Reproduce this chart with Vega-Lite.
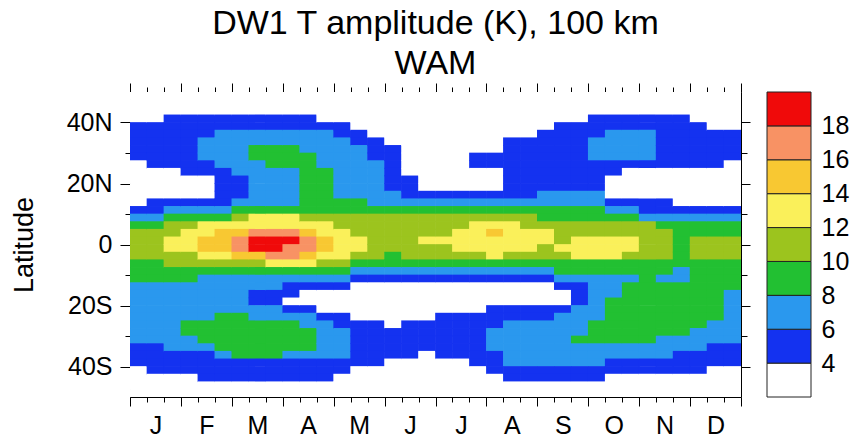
{
"$schema":"https://vega.github.io/schema/vega-lite/v6.json",
"padding":{"left":10,"top":6,"right":5,"bottom":5},
"background":"white",
"title":{"text":["DW1 T amplitude (K), 100 km","WAM"],"fontSize":34,"font":"Liberation Sans","fontWeight":"normal","color":"black","anchor":"middle","lineHeight":40,"offset":2,"dx":6},
"config":{"font":"Liberation Sans","view":{"stroke":null},"axis":{"labelFont":"Liberation Sans","titleFont":"Liberation Sans","labelColor":"black","tickColor":"black","domainColor":"black","titleColor":"black","grid":false}},
"spacing":26,
"bounds":"flush",
"datasets":{
"legend":[{"lo":2,"hi":4,"T":3},{"lo":4,"hi":6,"T":5},{"lo":6,"hi":8,"T":7},{"lo":8,"hi":10,"T":9},{"lo":10,"hi":12,"T":11},{"lo":12,"hi":14,"T":13},{"lo":14,"hi":16,"T":15},{"lo":16,"hi":18,"T":17},{"lo":18,"hi":20,"T":19}],
"amp":[
{"d":5,"lat":48.75,"T":3},{"d":5,"lat":46.25,"T":3},{"d":5,"lat":43.75,"T":3},{"d":5,"lat":41.25,"T":3},{"d":5,"lat":38.75,"T":5},{"d":5,"lat":36.25,"T":5},{"d":5,"lat":33.75,"T":5},{"d":5,"lat":31.25,"T":5},{"d":5,"lat":28.75,"T":5},{"d":5,"lat":26.25,"T":3},{"d":5,"lat":23.75,"T":3},{"d":5,"lat":21.25,"T":3},{"d":5,"lat":18.75,"T":3},{"d":5,"lat":16.25,"T":3},{"d":5,"lat":13.75,"T":3},{"d":5,"lat":11.25,"T":5},{"d":5,"lat":8.75,"T":7},{"d":5,"lat":6.25,"T":9},{"d":5,"lat":3.75,"T":11},{"d":5,"lat":1.25,"T":11},{"d":5,"lat":-1.25,"T":11},{"d":5,"lat":-3.75,"T":11},{"d":5,"lat":-6.25,"T":9},{"d":5,"lat":-8.75,"T":9},{"d":5,"lat":-11.25,"T":9},{"d":5,"lat":-13.75,"T":7},{"d":5,"lat":-16.25,"T":7},{"d":5,"lat":-18.75,"T":7},{"d":5,"lat":-21.25,"T":7},{"d":5,"lat":-23.75,"T":7},{"d":5,"lat":-26.25,"T":7},{"d":5,"lat":-28.75,"T":7},{"d":5,"lat":-31.25,"T":7},{"d":5,"lat":-33.75,"T":5},{"d":5,"lat":-36.25,"T":5},{"d":5,"lat":-38.75,"T":5},{"d":5,"lat":-41.25,"T":3},{"d":5,"lat":-43.75,"T":3},{"d":5,"lat":-46.25,"T":3},{"d":5,"lat":-48.75,"T":3},
{"d":15,"lat":48.75,"T":3},{"d":15,"lat":46.25,"T":3},{"d":15,"lat":43.75,"T":3},{"d":15,"lat":41.25,"T":3},{"d":15,"lat":38.75,"T":5},{"d":15,"lat":36.25,"T":5},{"d":15,"lat":33.75,"T":5},{"d":15,"lat":31.25,"T":5},{"d":15,"lat":28.75,"T":5},{"d":15,"lat":26.25,"T":5},{"d":15,"lat":23.75,"T":3},{"d":15,"lat":21.25,"T":3},{"d":15,"lat":18.75,"T":3},{"d":15,"lat":16.25,"T":3},{"d":15,"lat":13.75,"T":5},{"d":15,"lat":11.25,"T":5},{"d":15,"lat":8.75,"T":7},{"d":15,"lat":6.25,"T":9},{"d":15,"lat":3.75,"T":11},{"d":15,"lat":1.25,"T":11},{"d":15,"lat":-1.25,"T":11},{"d":15,"lat":-3.75,"T":11},{"d":15,"lat":-6.25,"T":9},{"d":15,"lat":-8.75,"T":9},{"d":15,"lat":-11.25,"T":9},{"d":15,"lat":-13.75,"T":7},{"d":15,"lat":-16.25,"T":7},{"d":15,"lat":-18.75,"T":7},{"d":15,"lat":-21.25,"T":7},{"d":15,"lat":-23.75,"T":7},{"d":15,"lat":-26.25,"T":7},{"d":15,"lat":-28.75,"T":7},{"d":15,"lat":-31.25,"T":7},{"d":15,"lat":-33.75,"T":5},{"d":15,"lat":-36.25,"T":5},{"d":15,"lat":-38.75,"T":5},{"d":15,"lat":-41.25,"T":5},{"d":15,"lat":-43.75,"T":3},{"d":15,"lat":-46.25,"T":3},{"d":15,"lat":-48.75,"T":3},
{"d":25,"lat":48.75,"T":3},{"d":25,"lat":46.25,"T":3},{"d":25,"lat":43.75,"T":3},{"d":25,"lat":41.25,"T":5},{"d":25,"lat":38.75,"T":5},{"d":25,"lat":36.25,"T":5},{"d":25,"lat":33.75,"T":5},{"d":25,"lat":31.25,"T":5},{"d":25,"lat":28.75,"T":5},{"d":25,"lat":26.25,"T":5},{"d":25,"lat":23.75,"T":3},{"d":25,"lat":21.25,"T":3},{"d":25,"lat":18.75,"T":3},{"d":25,"lat":16.25,"T":3},{"d":25,"lat":13.75,"T":5},{"d":25,"lat":11.25,"T":7},{"d":25,"lat":8.75,"T":9},{"d":25,"lat":6.25,"T":11},{"d":25,"lat":3.75,"T":11},{"d":25,"lat":1.25,"T":13},{"d":25,"lat":-1.25,"T":13},{"d":25,"lat":-3.75,"T":11},{"d":25,"lat":-6.25,"T":11},{"d":25,"lat":-8.75,"T":9},{"d":25,"lat":-11.25,"T":9},{"d":25,"lat":-13.75,"T":7},{"d":25,"lat":-16.25,"T":7},{"d":25,"lat":-18.75,"T":7},{"d":25,"lat":-21.25,"T":7},{"d":25,"lat":-23.75,"T":7},{"d":25,"lat":-26.25,"T":7},{"d":25,"lat":-28.75,"T":7},{"d":25,"lat":-31.25,"T":7},{"d":25,"lat":-33.75,"T":7},{"d":25,"lat":-36.25,"T":5},{"d":25,"lat":-38.75,"T":5},{"d":25,"lat":-41.25,"T":5},{"d":25,"lat":-43.75,"T":3},{"d":25,"lat":-46.25,"T":3},{"d":25,"lat":-48.75,"T":3},
{"d":35,"lat":48.75,"T":3},{"d":35,"lat":46.25,"T":3},{"d":35,"lat":43.75,"T":3},{"d":35,"lat":41.25,"T":5},{"d":35,"lat":38.75,"T":5},{"d":35,"lat":36.25,"T":5},{"d":35,"lat":33.75,"T":5},{"d":35,"lat":31.25,"T":5},{"d":35,"lat":28.75,"T":5},{"d":35,"lat":26.25,"T":5},{"d":35,"lat":23.75,"T":5},{"d":35,"lat":21.25,"T":3},{"d":35,"lat":18.75,"T":3},{"d":35,"lat":16.25,"T":3},{"d":35,"lat":13.75,"T":5},{"d":35,"lat":11.25,"T":7},{"d":35,"lat":8.75,"T":9},{"d":35,"lat":6.25,"T":11},{"d":35,"lat":3.75,"T":13},{"d":35,"lat":1.25,"T":13},{"d":35,"lat":-1.25,"T":13},{"d":35,"lat":-3.75,"T":11},{"d":35,"lat":-6.25,"T":11},{"d":35,"lat":-8.75,"T":9},{"d":35,"lat":-11.25,"T":9},{"d":35,"lat":-13.75,"T":7},{"d":35,"lat":-16.25,"T":7},{"d":35,"lat":-18.75,"T":7},{"d":35,"lat":-21.25,"T":7},{"d":35,"lat":-23.75,"T":7},{"d":35,"lat":-26.25,"T":9},{"d":35,"lat":-28.75,"T":9},{"d":35,"lat":-31.25,"T":7},{"d":35,"lat":-33.75,"T":7},{"d":35,"lat":-36.25,"T":5},{"d":35,"lat":-38.75,"T":5},{"d":35,"lat":-41.25,"T":5},{"d":35,"lat":-43.75,"T":3},{"d":35,"lat":-46.25,"T":3},{"d":35,"lat":-48.75,"T":3},
{"d":45,"lat":48.75,"T":3},{"d":45,"lat":46.25,"T":3},{"d":45,"lat":43.75,"T":3},{"d":45,"lat":41.25,"T":5},{"d":45,"lat":38.75,"T":5},{"d":45,"lat":36.25,"T":5},{"d":45,"lat":33.75,"T":7},{"d":45,"lat":31.25,"T":7},{"d":45,"lat":28.75,"T":7},{"d":45,"lat":26.25,"T":5},{"d":45,"lat":23.75,"T":5},{"d":45,"lat":21.25,"T":3},{"d":45,"lat":18.75,"T":3},{"d":45,"lat":16.25,"T":3},{"d":45,"lat":13.75,"T":5},{"d":45,"lat":11.25,"T":7},{"d":45,"lat":8.75,"T":9},{"d":45,"lat":6.25,"T":13},{"d":45,"lat":3.75,"T":13},{"d":45,"lat":1.25,"T":15},{"d":45,"lat":-1.25,"T":15},{"d":45,"lat":-3.75,"T":13},{"d":45,"lat":-6.25,"T":11},{"d":45,"lat":-8.75,"T":9},{"d":45,"lat":-11.25,"T":7},{"d":45,"lat":-13.75,"T":7},{"d":45,"lat":-16.25,"T":7},{"d":45,"lat":-18.75,"T":7},{"d":45,"lat":-21.25,"T":7},{"d":45,"lat":-23.75,"T":7},{"d":45,"lat":-26.25,"T":9},{"d":45,"lat":-28.75,"T":9},{"d":45,"lat":-31.25,"T":9},{"d":45,"lat":-33.75,"T":7},{"d":45,"lat":-36.25,"T":5},{"d":45,"lat":-38.75,"T":5},{"d":45,"lat":-41.25,"T":5},{"d":45,"lat":-43.75,"T":5},{"d":45,"lat":-46.25,"T":3},{"d":45,"lat":-48.75,"T":3},
{"d":55,"lat":48.75,"T":3},{"d":55,"lat":46.25,"T":3},{"d":55,"lat":43.75,"T":3},{"d":55,"lat":41.25,"T":5},{"d":55,"lat":38.75,"T":5},{"d":55,"lat":36.25,"T":7},{"d":55,"lat":33.75,"T":7},{"d":55,"lat":31.25,"T":7},{"d":55,"lat":28.75,"T":7},{"d":55,"lat":26.25,"T":7},{"d":55,"lat":23.75,"T":5},{"d":55,"lat":21.25,"T":5},{"d":55,"lat":18.75,"T":5},{"d":55,"lat":16.25,"T":5},{"d":55,"lat":13.75,"T":5},{"d":55,"lat":11.25,"T":7},{"d":55,"lat":8.75,"T":9},{"d":55,"lat":6.25,"T":13},{"d":55,"lat":3.75,"T":15},{"d":55,"lat":1.25,"T":15},{"d":55,"lat":-1.25,"T":15},{"d":55,"lat":-3.75,"T":13},{"d":55,"lat":-6.25,"T":11},{"d":55,"lat":-8.75,"T":9},{"d":55,"lat":-11.25,"T":7},{"d":55,"lat":-13.75,"T":7},{"d":55,"lat":-16.25,"T":7},{"d":55,"lat":-18.75,"T":7},{"d":55,"lat":-21.25,"T":7},{"d":55,"lat":-23.75,"T":9},{"d":55,"lat":-26.25,"T":9},{"d":55,"lat":-28.75,"T":9},{"d":55,"lat":-31.25,"T":9},{"d":55,"lat":-33.75,"T":9},{"d":55,"lat":-36.25,"T":7},{"d":55,"lat":-38.75,"T":5},{"d":55,"lat":-41.25,"T":5},{"d":55,"lat":-43.75,"T":5},{"d":55,"lat":-46.25,"T":3},{"d":55,"lat":-48.75,"T":3},
{"d":65,"lat":48.75,"T":3},{"d":65,"lat":46.25,"T":3},{"d":65,"lat":43.75,"T":3},{"d":65,"lat":41.25,"T":5},{"d":65,"lat":38.75,"T":5},{"d":65,"lat":36.25,"T":7},{"d":65,"lat":33.75,"T":7},{"d":65,"lat":31.25,"T":7},{"d":65,"lat":28.75,"T":7},{"d":65,"lat":26.25,"T":7},{"d":65,"lat":23.75,"T":7},{"d":65,"lat":21.25,"T":5},{"d":65,"lat":18.75,"T":5},{"d":65,"lat":16.25,"T":5},{"d":65,"lat":13.75,"T":7},{"d":65,"lat":11.25,"T":9},{"d":65,"lat":8.75,"T":11},{"d":65,"lat":6.25,"T":13},{"d":65,"lat":3.75,"T":15},{"d":65,"lat":1.25,"T":17},{"d":65,"lat":-1.25,"T":17},{"d":65,"lat":-3.75,"T":15},{"d":65,"lat":-6.25,"T":11},{"d":65,"lat":-8.75,"T":9},{"d":65,"lat":-11.25,"T":7},{"d":65,"lat":-13.75,"T":7},{"d":65,"lat":-16.25,"T":7},{"d":65,"lat":-18.75,"T":7},{"d":65,"lat":-21.25,"T":7},{"d":65,"lat":-23.75,"T":9},{"d":65,"lat":-26.25,"T":9},{"d":65,"lat":-28.75,"T":9},{"d":65,"lat":-31.25,"T":9},{"d":65,"lat":-33.75,"T":9},{"d":65,"lat":-36.25,"T":9},{"d":65,"lat":-38.75,"T":5},{"d":65,"lat":-41.25,"T":5},{"d":65,"lat":-43.75,"T":5},{"d":65,"lat":-46.25,"T":3},{"d":65,"lat":-48.75,"T":3},
{"d":75,"lat":48.75,"T":3},{"d":75,"lat":46.25,"T":3},{"d":75,"lat":43.75,"T":3},{"d":75,"lat":41.25,"T":5},{"d":75,"lat":38.75,"T":5},{"d":75,"lat":36.25,"T":7},{"d":75,"lat":33.75,"T":7},{"d":75,"lat":31.25,"T":9},{"d":75,"lat":28.75,"T":9},{"d":75,"lat":26.25,"T":7},{"d":75,"lat":23.75,"T":7},{"d":75,"lat":21.25,"T":7},{"d":75,"lat":18.75,"T":7},{"d":75,"lat":16.25,"T":7},{"d":75,"lat":13.75,"T":7},{"d":75,"lat":11.25,"T":9},{"d":75,"lat":8.75,"T":13},{"d":75,"lat":6.25,"T":13},{"d":75,"lat":3.75,"T":17},{"d":75,"lat":1.25,"T":19},{"d":75,"lat":-1.25,"T":19},{"d":75,"lat":-3.75,"T":15},{"d":75,"lat":-6.25,"T":11},{"d":75,"lat":-8.75,"T":9},{"d":75,"lat":-11.25,"T":7},{"d":75,"lat":-13.75,"T":7},{"d":75,"lat":-16.25,"T":5},{"d":75,"lat":-18.75,"T":5},{"d":75,"lat":-21.25,"T":7},{"d":75,"lat":-23.75,"T":7},{"d":75,"lat":-26.25,"T":9},{"d":75,"lat":-28.75,"T":9},{"d":75,"lat":-31.25,"T":9},{"d":75,"lat":-33.75,"T":9},{"d":75,"lat":-36.25,"T":9},{"d":75,"lat":-38.75,"T":5},{"d":75,"lat":-41.25,"T":5},{"d":75,"lat":-43.75,"T":5},{"d":75,"lat":-46.25,"T":3},{"d":75,"lat":-48.75,"T":3},
{"d":85,"lat":48.75,"T":3},{"d":85,"lat":46.25,"T":3},{"d":85,"lat":43.75,"T":3},{"d":85,"lat":41.25,"T":5},{"d":85,"lat":38.75,"T":5},{"d":85,"lat":36.25,"T":7},{"d":85,"lat":33.75,"T":7},{"d":85,"lat":31.25,"T":9},{"d":85,"lat":28.75,"T":9},{"d":85,"lat":26.25,"T":9},{"d":85,"lat":23.75,"T":7},{"d":85,"lat":21.25,"T":7},{"d":85,"lat":18.75,"T":7},{"d":85,"lat":16.25,"T":7},{"d":85,"lat":13.75,"T":7},{"d":85,"lat":11.25,"T":9},{"d":85,"lat":8.75,"T":13},{"d":85,"lat":6.25,"T":13},{"d":85,"lat":3.75,"T":17},{"d":85,"lat":1.25,"T":19},{"d":85,"lat":-1.25,"T":19},{"d":85,"lat":-3.75,"T":17},{"d":85,"lat":-6.25,"T":13},{"d":85,"lat":-8.75,"T":9},{"d":85,"lat":-11.25,"T":7},{"d":85,"lat":-13.75,"T":7},{"d":85,"lat":-16.25,"T":5},{"d":85,"lat":-18.75,"T":5},{"d":85,"lat":-21.25,"T":7},{"d":85,"lat":-23.75,"T":7},{"d":85,"lat":-26.25,"T":9},{"d":85,"lat":-28.75,"T":9},{"d":85,"lat":-31.25,"T":9},{"d":85,"lat":-33.75,"T":9},{"d":85,"lat":-36.25,"T":9},{"d":85,"lat":-38.75,"T":5},{"d":85,"lat":-41.25,"T":5},{"d":85,"lat":-43.75,"T":5},{"d":85,"lat":-46.25,"T":3},{"d":85,"lat":-48.75,"T":3},
{"d":95,"lat":48.75,"T":3},{"d":95,"lat":46.25,"T":3},{"d":95,"lat":43.75,"T":3},{"d":95,"lat":41.25,"T":5},{"d":95,"lat":38.75,"T":5},{"d":95,"lat":36.25,"T":7},{"d":95,"lat":33.75,"T":7},{"d":95,"lat":31.25,"T":9},{"d":95,"lat":28.75,"T":9},{"d":95,"lat":26.25,"T":9},{"d":95,"lat":23.75,"T":7},{"d":95,"lat":21.25,"T":7},{"d":95,"lat":18.75,"T":7},{"d":95,"lat":16.25,"T":7},{"d":95,"lat":13.75,"T":7},{"d":95,"lat":11.25,"T":9},{"d":95,"lat":8.75,"T":13},{"d":95,"lat":6.25,"T":13},{"d":95,"lat":3.75,"T":17},{"d":95,"lat":1.25,"T":19},{"d":95,"lat":-1.25,"T":17},{"d":95,"lat":-3.75,"T":17},{"d":95,"lat":-6.25,"T":13},{"d":95,"lat":-8.75,"T":9},{"d":95,"lat":-11.25,"T":7},{"d":95,"lat":-13.75,"T":5},{"d":95,"lat":-16.25,"T":5},{"d":95,"lat":-18.75,"T":3},{"d":95,"lat":-21.25,"T":5},{"d":95,"lat":-23.75,"T":7},{"d":95,"lat":-26.25,"T":9},{"d":95,"lat":-28.75,"T":9},{"d":95,"lat":-31.25,"T":9},{"d":95,"lat":-33.75,"T":9},{"d":95,"lat":-36.25,"T":7},{"d":95,"lat":-38.75,"T":5},{"d":95,"lat":-41.25,"T":5},{"d":95,"lat":-43.75,"T":5},{"d":95,"lat":-46.25,"T":3},{"d":95,"lat":-48.75,"T":3},
{"d":105,"lat":48.75,"T":3},{"d":105,"lat":46.25,"T":3},{"d":105,"lat":43.75,"T":3},{"d":105,"lat":41.25,"T":5},{"d":105,"lat":38.75,"T":5},{"d":105,"lat":36.25,"T":7},{"d":105,"lat":33.75,"T":7},{"d":105,"lat":31.25,"T":7},{"d":105,"lat":28.75,"T":9},{"d":105,"lat":26.25,"T":9},{"d":105,"lat":23.75,"T":9},{"d":105,"lat":21.25,"T":9},{"d":105,"lat":18.75,"T":9},{"d":105,"lat":16.25,"T":9},{"d":105,"lat":13.75,"T":9},{"d":105,"lat":11.25,"T":9},{"d":105,"lat":8.75,"T":11},{"d":105,"lat":6.25,"T":13},{"d":105,"lat":3.75,"T":15},{"d":105,"lat":1.25,"T":17},{"d":105,"lat":-1.25,"T":17},{"d":105,"lat":-3.75,"T":15},{"d":105,"lat":-6.25,"T":13},{"d":105,"lat":-8.75,"T":9},{"d":105,"lat":-11.25,"T":7},{"d":105,"lat":-13.75,"T":5},{"d":105,"lat":-16.25,"T":3},{"d":105,"lat":-18.75,"T":3},{"d":105,"lat":-21.25,"T":5},{"d":105,"lat":-23.75,"T":7},{"d":105,"lat":-26.25,"T":7},{"d":105,"lat":-28.75,"T":9},{"d":105,"lat":-31.25,"T":9},{"d":105,"lat":-33.75,"T":9},{"d":105,"lat":-36.25,"T":7},{"d":105,"lat":-38.75,"T":5},{"d":105,"lat":-41.25,"T":5},{"d":105,"lat":-43.75,"T":5},{"d":105,"lat":-46.25,"T":3},{"d":105,"lat":-48.75,"T":3},
{"d":115,"lat":48.75,"T":3},{"d":115,"lat":46.25,"T":3},{"d":115,"lat":43.75,"T":3},{"d":115,"lat":41.25,"T":3},{"d":115,"lat":38.75,"T":5},{"d":115,"lat":36.25,"T":7},{"d":115,"lat":33.75,"T":7},{"d":115,"lat":31.25,"T":7},{"d":115,"lat":28.75,"T":7},{"d":115,"lat":26.25,"T":7},{"d":115,"lat":23.75,"T":9},{"d":115,"lat":21.25,"T":9},{"d":115,"lat":18.75,"T":9},{"d":115,"lat":16.25,"T":9},{"d":115,"lat":13.75,"T":9},{"d":115,"lat":11.25,"T":9},{"d":115,"lat":8.75,"T":11},{"d":115,"lat":6.25,"T":13},{"d":115,"lat":3.75,"T":13},{"d":115,"lat":1.25,"T":15},{"d":115,"lat":-1.25,"T":15},{"d":115,"lat":-3.75,"T":13},{"d":115,"lat":-6.25,"T":11},{"d":115,"lat":-8.75,"T":9},{"d":115,"lat":-11.25,"T":7},{"d":115,"lat":-13.75,"T":5},{"d":115,"lat":-16.25,"T":3},{"d":115,"lat":-18.75,"T":3},{"d":115,"lat":-21.25,"T":3},{"d":115,"lat":-23.75,"T":5},{"d":115,"lat":-26.25,"T":7},{"d":115,"lat":-28.75,"T":7},{"d":115,"lat":-31.25,"T":7},{"d":115,"lat":-33.75,"T":7},{"d":115,"lat":-36.25,"T":7},{"d":115,"lat":-38.75,"T":5},{"d":115,"lat":-41.25,"T":5},{"d":115,"lat":-43.75,"T":5},{"d":115,"lat":-46.25,"T":3},{"d":115,"lat":-48.75,"T":3},
{"d":125,"lat":48.75,"T":3},{"d":125,"lat":46.25,"T":3},{"d":125,"lat":43.75,"T":3},{"d":125,"lat":41.25,"T":3},{"d":125,"lat":38.75,"T":5},{"d":125,"lat":36.25,"T":5},{"d":125,"lat":33.75,"T":7},{"d":125,"lat":31.25,"T":7},{"d":125,"lat":28.75,"T":7},{"d":125,"lat":26.25,"T":7},{"d":125,"lat":23.75,"T":7},{"d":125,"lat":21.25,"T":7},{"d":125,"lat":18.75,"T":7},{"d":125,"lat":16.25,"T":7},{"d":125,"lat":13.75,"T":9},{"d":125,"lat":11.25,"T":9},{"d":125,"lat":8.75,"T":11},{"d":125,"lat":6.25,"T":11},{"d":125,"lat":3.75,"T":13},{"d":125,"lat":1.25,"T":13},{"d":125,"lat":-1.25,"T":13},{"d":125,"lat":-3.75,"T":13},{"d":125,"lat":-6.25,"T":11},{"d":125,"lat":-8.75,"T":9},{"d":125,"lat":-11.25,"T":7},{"d":125,"lat":-13.75,"T":5},{"d":125,"lat":-16.25,"T":3},{"d":125,"lat":-18.75,"T":3},{"d":125,"lat":-21.25,"T":3},{"d":125,"lat":-23.75,"T":5},{"d":125,"lat":-26.25,"T":5},{"d":125,"lat":-28.75,"T":7},{"d":125,"lat":-31.25,"T":7},{"d":125,"lat":-33.75,"T":7},{"d":125,"lat":-36.25,"T":7},{"d":125,"lat":-38.75,"T":5},{"d":125,"lat":-41.25,"T":5},{"d":125,"lat":-43.75,"T":3},{"d":125,"lat":-46.25,"T":3},{"d":125,"lat":-48.75,"T":3},
{"d":135,"lat":48.75,"T":3},{"d":135,"lat":46.25,"T":3},{"d":135,"lat":43.75,"T":3},{"d":135,"lat":41.25,"T":3},{"d":135,"lat":38.75,"T":3},{"d":135,"lat":36.25,"T":5},{"d":135,"lat":33.75,"T":5},{"d":135,"lat":31.25,"T":7},{"d":135,"lat":28.75,"T":7},{"d":135,"lat":26.25,"T":7},{"d":135,"lat":23.75,"T":7},{"d":135,"lat":21.25,"T":7},{"d":135,"lat":18.75,"T":7},{"d":135,"lat":16.25,"T":7},{"d":135,"lat":13.75,"T":9},{"d":135,"lat":11.25,"T":9},{"d":135,"lat":8.75,"T":11},{"d":135,"lat":6.25,"T":11},{"d":135,"lat":3.75,"T":11},{"d":135,"lat":1.25,"T":13},{"d":135,"lat":-1.25,"T":13},{"d":135,"lat":-3.75,"T":11},{"d":135,"lat":-6.25,"T":9},{"d":135,"lat":-8.75,"T":7},{"d":135,"lat":-11.25,"T":5},{"d":135,"lat":-13.75,"T":3},{"d":135,"lat":-16.25,"T":3},{"d":135,"lat":-18.75,"T":3},{"d":135,"lat":-21.25,"T":3},{"d":135,"lat":-23.75,"T":3},{"d":135,"lat":-26.25,"T":5},{"d":135,"lat":-28.75,"T":5},{"d":135,"lat":-31.25,"T":5},{"d":135,"lat":-33.75,"T":5},{"d":135,"lat":-36.25,"T":5},{"d":135,"lat":-38.75,"T":5},{"d":135,"lat":-41.25,"T":3},{"d":135,"lat":-43.75,"T":3},{"d":135,"lat":-46.25,"T":3},{"d":135,"lat":-48.75,"T":3},
{"d":145,"lat":48.75,"T":3},{"d":145,"lat":46.25,"T":3},{"d":145,"lat":43.75,"T":3},{"d":145,"lat":41.25,"T":3},{"d":145,"lat":38.75,"T":3},{"d":145,"lat":36.25,"T":3},{"d":145,"lat":33.75,"T":5},{"d":145,"lat":31.25,"T":5},{"d":145,"lat":28.75,"T":5},{"d":145,"lat":26.25,"T":7},{"d":145,"lat":23.75,"T":7},{"d":145,"lat":21.25,"T":7},{"d":145,"lat":18.75,"T":7},{"d":145,"lat":16.25,"T":7},{"d":145,"lat":13.75,"T":7},{"d":145,"lat":11.25,"T":9},{"d":145,"lat":8.75,"T":11},{"d":145,"lat":6.25,"T":11},{"d":145,"lat":3.75,"T":11},{"d":145,"lat":1.25,"T":11},{"d":145,"lat":-1.25,"T":11},{"d":145,"lat":-3.75,"T":11},{"d":145,"lat":-6.25,"T":9},{"d":145,"lat":-8.75,"T":7},{"d":145,"lat":-11.25,"T":5},{"d":145,"lat":-13.75,"T":3},{"d":145,"lat":-16.25,"T":3},{"d":145,"lat":-18.75,"T":3},{"d":145,"lat":-21.25,"T":3},{"d":145,"lat":-23.75,"T":3},{"d":145,"lat":-26.25,"T":5},{"d":145,"lat":-28.75,"T":5},{"d":145,"lat":-31.25,"T":5},{"d":145,"lat":-33.75,"T":5},{"d":145,"lat":-36.25,"T":5},{"d":145,"lat":-38.75,"T":5},{"d":145,"lat":-41.25,"T":3},{"d":145,"lat":-43.75,"T":3},{"d":145,"lat":-46.25,"T":3},{"d":145,"lat":-48.75,"T":3},
{"d":155,"lat":48.75,"T":3},{"d":155,"lat":46.25,"T":3},{"d":155,"lat":43.75,"T":3},{"d":155,"lat":41.25,"T":3},{"d":155,"lat":38.75,"T":3},{"d":155,"lat":36.25,"T":3},{"d":155,"lat":33.75,"T":3},{"d":155,"lat":31.25,"T":5},{"d":155,"lat":28.75,"T":5},{"d":155,"lat":26.25,"T":5},{"d":155,"lat":23.75,"T":5},{"d":155,"lat":21.25,"T":5},{"d":155,"lat":18.75,"T":5},{"d":155,"lat":16.25,"T":7},{"d":155,"lat":13.75,"T":7},{"d":155,"lat":11.25,"T":9},{"d":155,"lat":8.75,"T":11},{"d":155,"lat":6.25,"T":11},{"d":155,"lat":3.75,"T":11},{"d":155,"lat":1.25,"T":11},{"d":155,"lat":-1.25,"T":11},{"d":155,"lat":-3.75,"T":9},{"d":155,"lat":-6.25,"T":9},{"d":155,"lat":-8.75,"T":7},{"d":155,"lat":-11.25,"T":5},{"d":155,"lat":-13.75,"T":3},{"d":155,"lat":-16.25,"T":3},{"d":155,"lat":-18.75,"T":3},{"d":155,"lat":-21.25,"T":3},{"d":155,"lat":-23.75,"T":3},{"d":155,"lat":-26.25,"T":3},{"d":155,"lat":-28.75,"T":5},{"d":155,"lat":-31.25,"T":5},{"d":155,"lat":-33.75,"T":5},{"d":155,"lat":-36.25,"T":5},{"d":155,"lat":-38.75,"T":3},{"d":155,"lat":-41.25,"T":3},{"d":155,"lat":-43.75,"T":3},{"d":155,"lat":-46.25,"T":3},{"d":155,"lat":-48.75,"T":3},
{"d":165,"lat":48.75,"T":3},{"d":165,"lat":46.25,"T":3},{"d":165,"lat":43.75,"T":3},{"d":165,"lat":41.25,"T":3},{"d":165,"lat":38.75,"T":3},{"d":165,"lat":36.25,"T":3},{"d":165,"lat":33.75,"T":3},{"d":165,"lat":31.25,"T":3},{"d":165,"lat":28.75,"T":3},{"d":165,"lat":26.25,"T":3},{"d":165,"lat":23.75,"T":3},{"d":165,"lat":21.25,"T":5},{"d":165,"lat":18.75,"T":5},{"d":165,"lat":16.25,"T":5},{"d":165,"lat":13.75,"T":7},{"d":165,"lat":11.25,"T":9},{"d":165,"lat":8.75,"T":11},{"d":165,"lat":6.25,"T":11},{"d":165,"lat":3.75,"T":11},{"d":165,"lat":1.25,"T":11},{"d":165,"lat":-1.25,"T":11},{"d":165,"lat":-3.75,"T":11},{"d":165,"lat":-6.25,"T":9},{"d":165,"lat":-8.75,"T":7},{"d":165,"lat":-11.25,"T":5},{"d":165,"lat":-13.75,"T":3},{"d":165,"lat":-16.25,"T":3},{"d":165,"lat":-18.75,"T":3},{"d":165,"lat":-21.25,"T":3},{"d":165,"lat":-23.75,"T":3},{"d":165,"lat":-26.25,"T":5},{"d":165,"lat":-28.75,"T":5},{"d":165,"lat":-31.25,"T":5},{"d":165,"lat":-33.75,"T":5},{"d":165,"lat":-36.25,"T":5},{"d":165,"lat":-38.75,"T":3},{"d":165,"lat":-41.25,"T":3},{"d":165,"lat":-43.75,"T":3},{"d":165,"lat":-46.25,"T":3},{"d":165,"lat":-48.75,"T":3},
{"d":175,"lat":48.75,"T":3},{"d":175,"lat":46.25,"T":3},{"d":175,"lat":43.75,"T":3},{"d":175,"lat":41.25,"T":3},{"d":175,"lat":38.75,"T":3},{"d":175,"lat":36.25,"T":3},{"d":175,"lat":33.75,"T":3},{"d":175,"lat":31.25,"T":3},{"d":175,"lat":28.75,"T":3},{"d":175,"lat":26.25,"T":3},{"d":175,"lat":23.75,"T":3},{"d":175,"lat":21.25,"T":3},{"d":175,"lat":18.75,"T":3},{"d":175,"lat":16.25,"T":5},{"d":175,"lat":13.75,"T":7},{"d":175,"lat":11.25,"T":9},{"d":175,"lat":8.75,"T":11},{"d":175,"lat":6.25,"T":11},{"d":175,"lat":3.75,"T":11},{"d":175,"lat":1.25,"T":13},{"d":175,"lat":-1.25,"T":11},{"d":175,"lat":-3.75,"T":11},{"d":175,"lat":-6.25,"T":9},{"d":175,"lat":-8.75,"T":7},{"d":175,"lat":-11.25,"T":5},{"d":175,"lat":-13.75,"T":3},{"d":175,"lat":-16.25,"T":3},{"d":175,"lat":-18.75,"T":3},{"d":175,"lat":-21.25,"T":3},{"d":175,"lat":-23.75,"T":3},{"d":175,"lat":-26.25,"T":5},{"d":175,"lat":-28.75,"T":5},{"d":175,"lat":-31.25,"T":5},{"d":175,"lat":-33.75,"T":5},{"d":175,"lat":-36.25,"T":3},{"d":175,"lat":-38.75,"T":3},{"d":175,"lat":-41.25,"T":3},{"d":175,"lat":-43.75,"T":3},{"d":175,"lat":-46.25,"T":3},{"d":175,"lat":-48.75,"T":3},
{"d":185,"lat":48.75,"T":3},{"d":185,"lat":46.25,"T":3},{"d":185,"lat":43.75,"T":3},{"d":185,"lat":41.25,"T":3},{"d":185,"lat":38.75,"T":3},{"d":185,"lat":36.25,"T":3},{"d":185,"lat":33.75,"T":3},{"d":185,"lat":31.25,"T":3},{"d":185,"lat":28.75,"T":3},{"d":185,"lat":26.25,"T":3},{"d":185,"lat":23.75,"T":3},{"d":185,"lat":21.25,"T":3},{"d":185,"lat":18.75,"T":3},{"d":185,"lat":16.25,"T":5},{"d":185,"lat":13.75,"T":7},{"d":185,"lat":11.25,"T":9},{"d":185,"lat":8.75,"T":11},{"d":185,"lat":6.25,"T":11},{"d":185,"lat":3.75,"T":11},{"d":185,"lat":1.25,"T":13},{"d":185,"lat":-1.25,"T":11},{"d":185,"lat":-3.75,"T":11},{"d":185,"lat":-6.25,"T":9},{"d":185,"lat":-8.75,"T":7},{"d":185,"lat":-11.25,"T":5},{"d":185,"lat":-13.75,"T":3},{"d":185,"lat":-16.25,"T":3},{"d":185,"lat":-18.75,"T":3},{"d":185,"lat":-21.25,"T":3},{"d":185,"lat":-23.75,"T":5},{"d":185,"lat":-26.25,"T":5},{"d":185,"lat":-28.75,"T":5},{"d":185,"lat":-31.25,"T":5},{"d":185,"lat":-33.75,"T":5},{"d":185,"lat":-36.25,"T":5},{"d":185,"lat":-38.75,"T":3},{"d":185,"lat":-41.25,"T":3},{"d":185,"lat":-43.75,"T":3},{"d":185,"lat":-46.25,"T":3},{"d":185,"lat":-48.75,"T":3},
{"d":195,"lat":48.75,"T":3},{"d":195,"lat":46.25,"T":3},{"d":195,"lat":43.75,"T":3},{"d":195,"lat":41.25,"T":3},{"d":195,"lat":38.75,"T":3},{"d":195,"lat":36.25,"T":3},{"d":195,"lat":33.75,"T":3},{"d":195,"lat":31.25,"T":3},{"d":195,"lat":28.75,"T":3},{"d":195,"lat":26.25,"T":3},{"d":195,"lat":23.75,"T":3},{"d":195,"lat":21.25,"T":3},{"d":195,"lat":18.75,"T":3},{"d":195,"lat":16.25,"T":5},{"d":195,"lat":13.75,"T":7},{"d":195,"lat":11.25,"T":9},{"d":195,"lat":8.75,"T":11},{"d":195,"lat":6.25,"T":11},{"d":195,"lat":3.75,"T":13},{"d":195,"lat":1.25,"T":13},{"d":195,"lat":-1.25,"T":13},{"d":195,"lat":-3.75,"T":11},{"d":195,"lat":-6.25,"T":9},{"d":195,"lat":-8.75,"T":7},{"d":195,"lat":-11.25,"T":5},{"d":195,"lat":-13.75,"T":3},{"d":195,"lat":-16.25,"T":3},{"d":195,"lat":-18.75,"T":3},{"d":195,"lat":-21.25,"T":3},{"d":195,"lat":-23.75,"T":5},{"d":195,"lat":-26.25,"T":5},{"d":195,"lat":-28.75,"T":5},{"d":195,"lat":-31.25,"T":5},{"d":195,"lat":-33.75,"T":5},{"d":195,"lat":-36.25,"T":5},{"d":195,"lat":-38.75,"T":3},{"d":195,"lat":-41.25,"T":3},{"d":195,"lat":-43.75,"T":3},{"d":195,"lat":-46.25,"T":3},{"d":195,"lat":-48.75,"T":3},
{"d":205,"lat":48.75,"T":3},{"d":205,"lat":46.25,"T":3},{"d":205,"lat":43.75,"T":3},{"d":205,"lat":41.25,"T":3},{"d":205,"lat":38.75,"T":3},{"d":205,"lat":36.25,"T":3},{"d":205,"lat":33.75,"T":3},{"d":205,"lat":31.25,"T":3},{"d":205,"lat":28.75,"T":5},{"d":205,"lat":26.25,"T":5},{"d":205,"lat":23.75,"T":3},{"d":205,"lat":21.25,"T":3},{"d":205,"lat":18.75,"T":3},{"d":205,"lat":16.25,"T":5},{"d":205,"lat":13.75,"T":7},{"d":205,"lat":11.25,"T":9},{"d":205,"lat":8.75,"T":11},{"d":205,"lat":6.25,"T":13},{"d":205,"lat":3.75,"T":13},{"d":205,"lat":1.25,"T":13},{"d":205,"lat":-1.25,"T":13},{"d":205,"lat":-3.75,"T":11},{"d":205,"lat":-6.25,"T":9},{"d":205,"lat":-8.75,"T":7},{"d":205,"lat":-11.25,"T":5},{"d":205,"lat":-13.75,"T":3},{"d":205,"lat":-16.25,"T":3},{"d":205,"lat":-18.75,"T":3},{"d":205,"lat":-21.25,"T":3},{"d":205,"lat":-23.75,"T":5},{"d":205,"lat":-26.25,"T":5},{"d":205,"lat":-28.75,"T":5},{"d":205,"lat":-31.25,"T":5},{"d":205,"lat":-33.75,"T":5},{"d":205,"lat":-36.25,"T":5},{"d":205,"lat":-38.75,"T":5},{"d":205,"lat":-41.25,"T":3},{"d":205,"lat":-43.75,"T":3},{"d":205,"lat":-46.25,"T":3},{"d":205,"lat":-48.75,"T":3},
{"d":215,"lat":48.75,"T":3},{"d":215,"lat":46.25,"T":3},{"d":215,"lat":43.75,"T":3},{"d":215,"lat":41.25,"T":3},{"d":215,"lat":38.75,"T":3},{"d":215,"lat":36.25,"T":3},{"d":215,"lat":33.75,"T":3},{"d":215,"lat":31.25,"T":3},{"d":215,"lat":28.75,"T":5},{"d":215,"lat":26.25,"T":5},{"d":215,"lat":23.75,"T":3},{"d":215,"lat":21.25,"T":3},{"d":215,"lat":18.75,"T":3},{"d":215,"lat":16.25,"T":5},{"d":215,"lat":13.75,"T":7},{"d":215,"lat":11.25,"T":9},{"d":215,"lat":8.75,"T":11},{"d":215,"lat":6.25,"T":13},{"d":215,"lat":3.75,"T":15},{"d":215,"lat":1.25,"T":13},{"d":215,"lat":-1.25,"T":13},{"d":215,"lat":-3.75,"T":13},{"d":215,"lat":-6.25,"T":9},{"d":215,"lat":-8.75,"T":7},{"d":215,"lat":-11.25,"T":5},{"d":215,"lat":-13.75,"T":3},{"d":215,"lat":-16.25,"T":3},{"d":215,"lat":-18.75,"T":3},{"d":215,"lat":-21.25,"T":5},{"d":215,"lat":-23.75,"T":5},{"d":215,"lat":-26.25,"T":5},{"d":215,"lat":-28.75,"T":7},{"d":215,"lat":-31.25,"T":7},{"d":215,"lat":-33.75,"T":7},{"d":215,"lat":-36.25,"T":5},{"d":215,"lat":-38.75,"T":5},{"d":215,"lat":-41.25,"T":5},{"d":215,"lat":-43.75,"T":3},{"d":215,"lat":-46.25,"T":3},{"d":215,"lat":-48.75,"T":3},
{"d":225,"lat":48.75,"T":3},{"d":225,"lat":46.25,"T":3},{"d":225,"lat":43.75,"T":3},{"d":225,"lat":41.25,"T":3},{"d":225,"lat":38.75,"T":3},{"d":225,"lat":36.25,"T":3},{"d":225,"lat":33.75,"T":5},{"d":225,"lat":31.25,"T":5},{"d":225,"lat":28.75,"T":5},{"d":225,"lat":26.25,"T":5},{"d":225,"lat":23.75,"T":5},{"d":225,"lat":21.25,"T":5},{"d":225,"lat":18.75,"T":5},{"d":225,"lat":16.25,"T":5},{"d":225,"lat":13.75,"T":7},{"d":225,"lat":11.25,"T":9},{"d":225,"lat":8.75,"T":11},{"d":225,"lat":6.25,"T":13},{"d":225,"lat":3.75,"T":13},{"d":225,"lat":1.25,"T":13},{"d":225,"lat":-1.25,"T":13},{"d":225,"lat":-3.75,"T":11},{"d":225,"lat":-6.25,"T":9},{"d":225,"lat":-8.75,"T":7},{"d":225,"lat":-11.25,"T":5},{"d":225,"lat":-13.75,"T":3},{"d":225,"lat":-16.25,"T":3},{"d":225,"lat":-18.75,"T":3},{"d":225,"lat":-21.25,"T":5},{"d":225,"lat":-23.75,"T":5},{"d":225,"lat":-26.25,"T":7},{"d":225,"lat":-28.75,"T":7},{"d":225,"lat":-31.25,"T":7},{"d":225,"lat":-33.75,"T":7},{"d":225,"lat":-36.25,"T":7},{"d":225,"lat":-38.75,"T":7},{"d":225,"lat":-41.25,"T":5},{"d":225,"lat":-43.75,"T":5},{"d":225,"lat":-46.25,"T":3},{"d":225,"lat":-48.75,"T":3},
{"d":235,"lat":48.75,"T":3},{"d":235,"lat":46.25,"T":3},{"d":235,"lat":43.75,"T":3},{"d":235,"lat":41.25,"T":3},{"d":235,"lat":38.75,"T":3},{"d":235,"lat":36.25,"T":3},{"d":235,"lat":33.75,"T":5},{"d":235,"lat":31.25,"T":5},{"d":235,"lat":28.75,"T":5},{"d":235,"lat":26.25,"T":5},{"d":235,"lat":23.75,"T":5},{"d":235,"lat":21.25,"T":5},{"d":235,"lat":18.75,"T":5},{"d":235,"lat":16.25,"T":5},{"d":235,"lat":13.75,"T":7},{"d":235,"lat":11.25,"T":9},{"d":235,"lat":8.75,"T":11},{"d":235,"lat":6.25,"T":11},{"d":235,"lat":3.75,"T":13},{"d":235,"lat":1.25,"T":13},{"d":235,"lat":-1.25,"T":13},{"d":235,"lat":-3.75,"T":11},{"d":235,"lat":-6.25,"T":9},{"d":235,"lat":-8.75,"T":7},{"d":235,"lat":-11.25,"T":5},{"d":235,"lat":-13.75,"T":3},{"d":235,"lat":-16.25,"T":3},{"d":235,"lat":-18.75,"T":3},{"d":235,"lat":-21.25,"T":5},{"d":235,"lat":-23.75,"T":5},{"d":235,"lat":-26.25,"T":7},{"d":235,"lat":-28.75,"T":7},{"d":235,"lat":-31.25,"T":7},{"d":235,"lat":-33.75,"T":7},{"d":235,"lat":-36.25,"T":7},{"d":235,"lat":-38.75,"T":7},{"d":235,"lat":-41.25,"T":5},{"d":235,"lat":-43.75,"T":5},{"d":235,"lat":-46.25,"T":3},{"d":235,"lat":-48.75,"T":3},
{"d":245,"lat":48.75,"T":3},{"d":245,"lat":46.25,"T":3},{"d":245,"lat":43.75,"T":3},{"d":245,"lat":41.25,"T":3},{"d":245,"lat":38.75,"T":3},{"d":245,"lat":36.25,"T":5},{"d":245,"lat":33.75,"T":5},{"d":245,"lat":31.25,"T":5},{"d":245,"lat":28.75,"T":5},{"d":245,"lat":26.25,"T":5},{"d":245,"lat":23.75,"T":5},{"d":245,"lat":21.25,"T":5},{"d":245,"lat":18.75,"T":5},{"d":245,"lat":16.25,"T":7},{"d":245,"lat":13.75,"T":7},{"d":245,"lat":11.25,"T":9},{"d":245,"lat":8.75,"T":9},{"d":245,"lat":6.25,"T":11},{"d":245,"lat":3.75,"T":13},{"d":245,"lat":1.25,"T":13},{"d":245,"lat":-1.25,"T":11},{"d":245,"lat":-3.75,"T":11},{"d":245,"lat":-6.25,"T":9},{"d":245,"lat":-8.75,"T":7},{"d":245,"lat":-11.25,"T":5},{"d":245,"lat":-13.75,"T":3},{"d":245,"lat":-16.25,"T":3},{"d":245,"lat":-18.75,"T":3},{"d":245,"lat":-21.25,"T":5},{"d":245,"lat":-23.75,"T":5},{"d":245,"lat":-26.25,"T":7},{"d":245,"lat":-28.75,"T":7},{"d":245,"lat":-31.25,"T":7},{"d":245,"lat":-33.75,"T":7},{"d":245,"lat":-36.25,"T":7},{"d":245,"lat":-38.75,"T":7},{"d":245,"lat":-41.25,"T":5},{"d":245,"lat":-43.75,"T":5},{"d":245,"lat":-46.25,"T":3},{"d":245,"lat":-48.75,"T":3},
{"d":255,"lat":48.75,"T":3},{"d":255,"lat":46.25,"T":3},{"d":255,"lat":43.75,"T":3},{"d":255,"lat":41.25,"T":3},{"d":255,"lat":38.75,"T":5},{"d":255,"lat":36.25,"T":5},{"d":255,"lat":33.75,"T":5},{"d":255,"lat":31.25,"T":5},{"d":255,"lat":28.75,"T":5},{"d":255,"lat":26.25,"T":5},{"d":255,"lat":23.75,"T":5},{"d":255,"lat":21.25,"T":5},{"d":255,"lat":18.75,"T":5},{"d":255,"lat":16.25,"T":7},{"d":255,"lat":13.75,"T":7},{"d":255,"lat":11.25,"T":9},{"d":255,"lat":8.75,"T":9},{"d":255,"lat":6.25,"T":11},{"d":255,"lat":3.75,"T":11},{"d":255,"lat":1.25,"T":11},{"d":255,"lat":-1.25,"T":13},{"d":255,"lat":-3.75,"T":11},{"d":255,"lat":-6.25,"T":9},{"d":255,"lat":-8.75,"T":9},{"d":255,"lat":-11.25,"T":7},{"d":255,"lat":-13.75,"T":5},{"d":255,"lat":-16.25,"T":3},{"d":255,"lat":-18.75,"T":3},{"d":255,"lat":-21.25,"T":5},{"d":255,"lat":-23.75,"T":7},{"d":255,"lat":-26.25,"T":7},{"d":255,"lat":-28.75,"T":7},{"d":255,"lat":-31.25,"T":7},{"d":255,"lat":-33.75,"T":7},{"d":255,"lat":-36.25,"T":7},{"d":255,"lat":-38.75,"T":7},{"d":255,"lat":-41.25,"T":5},{"d":255,"lat":-43.75,"T":5},{"d":255,"lat":-46.25,"T":3},{"d":255,"lat":-48.75,"T":3},
{"d":265,"lat":48.75,"T":3},{"d":265,"lat":46.25,"T":3},{"d":265,"lat":43.75,"T":3},{"d":265,"lat":41.25,"T":3},{"d":265,"lat":38.75,"T":5},{"d":265,"lat":36.25,"T":5},{"d":265,"lat":33.75,"T":5},{"d":265,"lat":31.25,"T":5},{"d":265,"lat":28.75,"T":5},{"d":265,"lat":26.25,"T":5},{"d":265,"lat":23.75,"T":5},{"d":265,"lat":21.25,"T":5},{"d":265,"lat":18.75,"T":5},{"d":265,"lat":16.25,"T":7},{"d":265,"lat":13.75,"T":7},{"d":265,"lat":11.25,"T":9},{"d":265,"lat":8.75,"T":9},{"d":265,"lat":6.25,"T":11},{"d":265,"lat":3.75,"T":11},{"d":265,"lat":1.25,"T":13},{"d":265,"lat":-1.25,"T":13},{"d":265,"lat":-3.75,"T":13},{"d":265,"lat":-6.25,"T":9},{"d":265,"lat":-8.75,"T":9},{"d":265,"lat":-11.25,"T":7},{"d":265,"lat":-13.75,"T":5},{"d":265,"lat":-16.25,"T":5},{"d":265,"lat":-18.75,"T":5},{"d":265,"lat":-21.25,"T":7},{"d":265,"lat":-23.75,"T":7},{"d":265,"lat":-26.25,"T":7},{"d":265,"lat":-28.75,"T":7},{"d":265,"lat":-31.25,"T":9},{"d":265,"lat":-33.75,"T":7},{"d":265,"lat":-36.25,"T":7},{"d":265,"lat":-38.75,"T":7},{"d":265,"lat":-41.25,"T":5},{"d":265,"lat":-43.75,"T":5},{"d":265,"lat":-46.25,"T":3},{"d":265,"lat":-48.75,"T":3},
{"d":275,"lat":48.75,"T":3},{"d":275,"lat":46.25,"T":3},{"d":275,"lat":43.75,"T":3},{"d":275,"lat":41.25,"T":5},{"d":275,"lat":38.75,"T":5},{"d":275,"lat":36.25,"T":5},{"d":275,"lat":33.75,"T":7},{"d":275,"lat":31.25,"T":7},{"d":275,"lat":28.75,"T":7},{"d":275,"lat":26.25,"T":5},{"d":275,"lat":23.75,"T":5},{"d":275,"lat":21.25,"T":5},{"d":275,"lat":18.75,"T":5},{"d":275,"lat":16.25,"T":7},{"d":275,"lat":13.75,"T":7},{"d":275,"lat":11.25,"T":9},{"d":275,"lat":8.75,"T":9},{"d":275,"lat":6.25,"T":11},{"d":275,"lat":3.75,"T":11},{"d":275,"lat":1.25,"T":13},{"d":275,"lat":-1.25,"T":13},{"d":275,"lat":-3.75,"T":13},{"d":275,"lat":-6.25,"T":9},{"d":275,"lat":-8.75,"T":9},{"d":275,"lat":-11.25,"T":7},{"d":275,"lat":-13.75,"T":7},{"d":275,"lat":-16.25,"T":7},{"d":275,"lat":-18.75,"T":7},{"d":275,"lat":-21.25,"T":7},{"d":275,"lat":-23.75,"T":7},{"d":275,"lat":-26.25,"T":9},{"d":275,"lat":-28.75,"T":9},{"d":275,"lat":-31.25,"T":9},{"d":275,"lat":-33.75,"T":7},{"d":275,"lat":-36.25,"T":7},{"d":275,"lat":-38.75,"T":7},{"d":275,"lat":-41.25,"T":5},{"d":275,"lat":-43.75,"T":5},{"d":275,"lat":-46.25,"T":3},{"d":275,"lat":-48.75,"T":3},
{"d":285,"lat":48.75,"T":3},{"d":285,"lat":46.25,"T":3},{"d":285,"lat":43.75,"T":3},{"d":285,"lat":41.25,"T":5},{"d":285,"lat":38.75,"T":5},{"d":285,"lat":36.25,"T":7},{"d":285,"lat":33.75,"T":7},{"d":285,"lat":31.25,"T":7},{"d":285,"lat":28.75,"T":7},{"d":285,"lat":26.25,"T":5},{"d":285,"lat":23.75,"T":5},{"d":285,"lat":21.25,"T":3},{"d":285,"lat":18.75,"T":3},{"d":285,"lat":16.25,"T":3},{"d":285,"lat":13.75,"T":5},{"d":285,"lat":11.25,"T":7},{"d":285,"lat":8.75,"T":9},{"d":285,"lat":6.25,"T":11},{"d":285,"lat":3.75,"T":11},{"d":285,"lat":1.25,"T":13},{"d":285,"lat":-1.25,"T":13},{"d":285,"lat":-3.75,"T":13},{"d":285,"lat":-6.25,"T":9},{"d":285,"lat":-8.75,"T":9},{"d":285,"lat":-11.25,"T":7},{"d":285,"lat":-13.75,"T":7},{"d":285,"lat":-16.25,"T":7},{"d":285,"lat":-18.75,"T":9},{"d":285,"lat":-21.25,"T":9},{"d":285,"lat":-23.75,"T":9},{"d":285,"lat":-26.25,"T":9},{"d":285,"lat":-28.75,"T":9},{"d":285,"lat":-31.25,"T":9},{"d":285,"lat":-33.75,"T":7},{"d":285,"lat":-36.25,"T":7},{"d":285,"lat":-38.75,"T":5},{"d":285,"lat":-41.25,"T":5},{"d":285,"lat":-43.75,"T":3},{"d":285,"lat":-46.25,"T":3},{"d":285,"lat":-48.75,"T":3},
{"d":295,"lat":48.75,"T":3},{"d":295,"lat":46.25,"T":3},{"d":295,"lat":43.75,"T":3},{"d":295,"lat":41.25,"T":5},{"d":295,"lat":38.75,"T":5},{"d":295,"lat":36.25,"T":7},{"d":295,"lat":33.75,"T":7},{"d":295,"lat":31.25,"T":7},{"d":295,"lat":28.75,"T":7},{"d":295,"lat":26.25,"T":5},{"d":295,"lat":23.75,"T":3},{"d":295,"lat":21.25,"T":3},{"d":295,"lat":18.75,"T":3},{"d":295,"lat":16.25,"T":3},{"d":295,"lat":13.75,"T":5},{"d":295,"lat":11.25,"T":7},{"d":295,"lat":8.75,"T":9},{"d":295,"lat":6.25,"T":11},{"d":295,"lat":3.75,"T":11},{"d":295,"lat":1.25,"T":13},{"d":295,"lat":-1.25,"T":13},{"d":295,"lat":-3.75,"T":11},{"d":295,"lat":-6.25,"T":9},{"d":295,"lat":-8.75,"T":9},{"d":295,"lat":-11.25,"T":7},{"d":295,"lat":-13.75,"T":9},{"d":295,"lat":-16.25,"T":9},{"d":295,"lat":-18.75,"T":9},{"d":295,"lat":-21.25,"T":9},{"d":295,"lat":-23.75,"T":9},{"d":295,"lat":-26.25,"T":9},{"d":295,"lat":-28.75,"T":9},{"d":295,"lat":-31.25,"T":9},{"d":295,"lat":-33.75,"T":7},{"d":295,"lat":-36.25,"T":7},{"d":295,"lat":-38.75,"T":5},{"d":295,"lat":-41.25,"T":5},{"d":295,"lat":-43.75,"T":3},{"d":295,"lat":-46.25,"T":3},{"d":295,"lat":-48.75,"T":3},
{"d":305,"lat":48.75,"T":3},{"d":305,"lat":46.25,"T":3},{"d":305,"lat":43.75,"T":3},{"d":305,"lat":41.25,"T":5},{"d":305,"lat":38.75,"T":5},{"d":305,"lat":36.25,"T":7},{"d":305,"lat":33.75,"T":7},{"d":305,"lat":31.25,"T":7},{"d":305,"lat":28.75,"T":7},{"d":305,"lat":26.25,"T":5},{"d":305,"lat":23.75,"T":3},{"d":305,"lat":21.25,"T":3},{"d":305,"lat":18.75,"T":3},{"d":305,"lat":16.25,"T":3},{"d":305,"lat":13.75,"T":5},{"d":305,"lat":11.25,"T":5},{"d":305,"lat":8.75,"T":7},{"d":305,"lat":6.25,"T":11},{"d":305,"lat":3.75,"T":11},{"d":305,"lat":1.25,"T":11},{"d":305,"lat":-1.25,"T":11},{"d":305,"lat":-3.75,"T":11},{"d":305,"lat":-6.25,"T":9},{"d":305,"lat":-8.75,"T":9},{"d":305,"lat":-11.25,"T":9},{"d":305,"lat":-13.75,"T":9},{"d":305,"lat":-16.25,"T":9},{"d":305,"lat":-18.75,"T":9},{"d":305,"lat":-21.25,"T":9},{"d":305,"lat":-23.75,"T":9},{"d":305,"lat":-26.25,"T":9},{"d":305,"lat":-28.75,"T":9},{"d":305,"lat":-31.25,"T":9},{"d":305,"lat":-33.75,"T":7},{"d":305,"lat":-36.25,"T":7},{"d":305,"lat":-38.75,"T":5},{"d":305,"lat":-41.25,"T":5},{"d":305,"lat":-43.75,"T":3},{"d":305,"lat":-46.25,"T":3},{"d":305,"lat":-48.75,"T":3},
{"d":315,"lat":48.75,"T":3},{"d":315,"lat":46.25,"T":3},{"d":315,"lat":43.75,"T":3},{"d":315,"lat":41.25,"T":5},{"d":315,"lat":38.75,"T":5},{"d":315,"lat":36.25,"T":5},{"d":315,"lat":33.75,"T":5},{"d":315,"lat":31.25,"T":5},{"d":315,"lat":28.75,"T":5},{"d":315,"lat":26.25,"T":5},{"d":315,"lat":23.75,"T":3},{"d":315,"lat":21.25,"T":3},{"d":315,"lat":18.75,"T":3},{"d":315,"lat":16.25,"T":3},{"d":315,"lat":13.75,"T":5},{"d":315,"lat":11.25,"T":5},{"d":315,"lat":8.75,"T":7},{"d":315,"lat":6.25,"T":9},{"d":315,"lat":3.75,"T":11},{"d":315,"lat":1.25,"T":11},{"d":315,"lat":-1.25,"T":11},{"d":315,"lat":-3.75,"T":11},{"d":315,"lat":-6.25,"T":9},{"d":315,"lat":-8.75,"T":9},{"d":315,"lat":-11.25,"T":7},{"d":315,"lat":-13.75,"T":9},{"d":315,"lat":-16.25,"T":9},{"d":315,"lat":-18.75,"T":9},{"d":315,"lat":-21.25,"T":9},{"d":315,"lat":-23.75,"T":9},{"d":315,"lat":-26.25,"T":9},{"d":315,"lat":-28.75,"T":9},{"d":315,"lat":-31.25,"T":7},{"d":315,"lat":-33.75,"T":7},{"d":315,"lat":-36.25,"T":7},{"d":315,"lat":-38.75,"T":5},{"d":315,"lat":-41.25,"T":5},{"d":315,"lat":-43.75,"T":3},{"d":315,"lat":-46.25,"T":3},{"d":315,"lat":-48.75,"T":3},
{"d":325,"lat":48.75,"T":3},{"d":325,"lat":46.25,"T":3},{"d":325,"lat":43.75,"T":3},{"d":325,"lat":41.25,"T":5},{"d":325,"lat":38.75,"T":5},{"d":325,"lat":36.25,"T":5},{"d":325,"lat":33.75,"T":5},{"d":325,"lat":31.25,"T":5},{"d":325,"lat":28.75,"T":5},{"d":325,"lat":26.25,"T":5},{"d":325,"lat":23.75,"T":3},{"d":325,"lat":21.25,"T":3},{"d":325,"lat":18.75,"T":3},{"d":325,"lat":16.25,"T":3},{"d":325,"lat":13.75,"T":3},{"d":325,"lat":11.25,"T":5},{"d":325,"lat":8.75,"T":7},{"d":325,"lat":6.25,"T":9},{"d":325,"lat":3.75,"T":9},{"d":325,"lat":1.25,"T":9},{"d":325,"lat":-1.25,"T":9},{"d":325,"lat":-3.75,"T":9},{"d":325,"lat":-6.25,"T":9},{"d":325,"lat":-8.75,"T":7},{"d":325,"lat":-11.25,"T":7},{"d":325,"lat":-13.75,"T":9},{"d":325,"lat":-16.25,"T":9},{"d":325,"lat":-18.75,"T":9},{"d":325,"lat":-21.25,"T":9},{"d":325,"lat":-23.75,"T":9},{"d":325,"lat":-26.25,"T":9},{"d":325,"lat":-28.75,"T":9},{"d":325,"lat":-31.25,"T":7},{"d":325,"lat":-33.75,"T":7},{"d":325,"lat":-36.25,"T":5},{"d":325,"lat":-38.75,"T":5},{"d":325,"lat":-41.25,"T":5},{"d":325,"lat":-43.75,"T":3},{"d":325,"lat":-46.25,"T":3},{"d":325,"lat":-48.75,"T":3},
{"d":335,"lat":48.75,"T":3},{"d":335,"lat":46.25,"T":3},{"d":335,"lat":43.75,"T":3},{"d":335,"lat":41.25,"T":3},{"d":335,"lat":38.75,"T":5},{"d":335,"lat":36.25,"T":5},{"d":335,"lat":33.75,"T":5},{"d":335,"lat":31.25,"T":5},{"d":335,"lat":28.75,"T":5},{"d":335,"lat":26.25,"T":5},{"d":335,"lat":23.75,"T":3},{"d":335,"lat":21.25,"T":3},{"d":335,"lat":18.75,"T":3},{"d":335,"lat":16.25,"T":3},{"d":335,"lat":13.75,"T":3},{"d":335,"lat":11.25,"T":5},{"d":335,"lat":8.75,"T":7},{"d":335,"lat":6.25,"T":9},{"d":335,"lat":3.75,"T":9},{"d":335,"lat":1.25,"T":11},{"d":335,"lat":-1.25,"T":11},{"d":335,"lat":-3.75,"T":11},{"d":335,"lat":-6.25,"T":9},{"d":335,"lat":-8.75,"T":9},{"d":335,"lat":-11.25,"T":9},{"d":335,"lat":-13.75,"T":9},{"d":335,"lat":-16.25,"T":9},{"d":335,"lat":-18.75,"T":9},{"d":335,"lat":-21.25,"T":9},{"d":335,"lat":-23.75,"T":9},{"d":335,"lat":-26.25,"T":9},{"d":335,"lat":-28.75,"T":7},{"d":335,"lat":-31.25,"T":7},{"d":335,"lat":-33.75,"T":7},{"d":335,"lat":-36.25,"T":5},{"d":335,"lat":-38.75,"T":5},{"d":335,"lat":-41.25,"T":5},{"d":335,"lat":-43.75,"T":3},{"d":335,"lat":-46.25,"T":3},{"d":335,"lat":-48.75,"T":3},
{"d":345,"lat":48.75,"T":3},{"d":345,"lat":46.25,"T":3},{"d":345,"lat":43.75,"T":3},{"d":345,"lat":41.25,"T":3},{"d":345,"lat":38.75,"T":3},{"d":345,"lat":36.25,"T":5},{"d":345,"lat":33.75,"T":5},{"d":345,"lat":31.25,"T":5},{"d":345,"lat":28.75,"T":5},{"d":345,"lat":26.25,"T":5},{"d":345,"lat":23.75,"T":3},{"d":345,"lat":21.25,"T":3},{"d":345,"lat":18.75,"T":3},{"d":345,"lat":16.25,"T":3},{"d":345,"lat":13.75,"T":3},{"d":345,"lat":11.25,"T":5},{"d":345,"lat":8.75,"T":7},{"d":345,"lat":6.25,"T":9},{"d":345,"lat":3.75,"T":9},{"d":345,"lat":1.25,"T":11},{"d":345,"lat":-1.25,"T":11},{"d":345,"lat":-3.75,"T":11},{"d":345,"lat":-6.25,"T":9},{"d":345,"lat":-8.75,"T":9},{"d":345,"lat":-11.25,"T":9},{"d":345,"lat":-13.75,"T":9},{"d":345,"lat":-16.25,"T":9},{"d":345,"lat":-18.75,"T":9},{"d":345,"lat":-21.25,"T":9},{"d":345,"lat":-23.75,"T":9},{"d":345,"lat":-26.25,"T":7},{"d":345,"lat":-28.75,"T":7},{"d":345,"lat":-31.25,"T":7},{"d":345,"lat":-33.75,"T":5},{"d":345,"lat":-36.25,"T":5},{"d":345,"lat":-38.75,"T":5},{"d":345,"lat":-41.25,"T":3},{"d":345,"lat":-43.75,"T":3},{"d":345,"lat":-46.25,"T":3},{"d":345,"lat":-48.75,"T":3},
{"d":355,"lat":48.75,"T":3},{"d":355,"lat":46.25,"T":3},{"d":355,"lat":43.75,"T":3},{"d":355,"lat":41.25,"T":3},{"d":355,"lat":38.75,"T":3},{"d":355,"lat":36.25,"T":5},{"d":355,"lat":33.75,"T":5},{"d":355,"lat":31.25,"T":5},{"d":355,"lat":28.75,"T":5},{"d":355,"lat":26.25,"T":3},{"d":355,"lat":23.75,"T":3},{"d":355,"lat":21.25,"T":3},{"d":355,"lat":18.75,"T":3},{"d":355,"lat":16.25,"T":3},{"d":355,"lat":13.75,"T":3},{"d":355,"lat":11.25,"T":5},{"d":355,"lat":8.75,"T":7},{"d":355,"lat":6.25,"T":9},{"d":355,"lat":3.75,"T":9},{"d":355,"lat":1.25,"T":11},{"d":355,"lat":-1.25,"T":11},{"d":355,"lat":-3.75,"T":11},{"d":355,"lat":-6.25,"T":9},{"d":355,"lat":-8.75,"T":9},{"d":355,"lat":-11.25,"T":9},{"d":355,"lat":-13.75,"T":9},{"d":355,"lat":-16.25,"T":7},{"d":355,"lat":-18.75,"T":7},{"d":355,"lat":-21.25,"T":7},{"d":355,"lat":-23.75,"T":7},{"d":355,"lat":-26.25,"T":7},{"d":355,"lat":-28.75,"T":7},{"d":355,"lat":-31.25,"T":7},{"d":355,"lat":-33.75,"T":5},{"d":355,"lat":-36.25,"T":5},{"d":355,"lat":-38.75,"T":5},{"d":355,"lat":-41.25,"T":3},{"d":355,"lat":-43.75,"T":3},{"d":355,"lat":-46.25,"T":3},{"d":355,"lat":-48.75,"T":3}
]},
"hconcat":[
{
"width":611,"height":305,
"layer":[
{"data":{"name":"amp"},
"mark":{"type":"rect","width":17.6,"height":8.3,"clip":true},
"encoding":{
"x":{"field":"d","type":"quantitative","scale":{"domain":[0,360],"nice":false,"zero":false},
"axis":{"orient":"bottom","title":null,"values":[0,10,20,30,40,50,60,70,80,90,100,110,120,130,140,150,160,170,180,190,200,210,220,230,240,250,260,270,280,290,300,310,320,330,340,350,360],
"labelExpr":"(datum.value % 30 == 0 && datum.value < 360) ? ['J','F','M','A','M','J','J','A','S','O','N','D'][datum.value/30] : ''",
"labelOffset":25.46,"labelFontSize":25,"labelPadding":7,"labelOverlap":false,"labelBound":false,"labelFlush":false,"labelAlign":"center",
"tickSize":{"condition":{"test":"datum.value % 30 == 0","value":9},"value":5},"tickWidth":1,"domainWidth":1}},
"y":{"field":"lat","type":"quantitative","scale":{"domain":[-50,50],"nice":false,"zero":false},
"axis":{"orient":"left","title":"Latitude","titleFontSize":27,"titleFontWeight":"normal","titlePadding":28,
"values":[-40,-30,-20,-10,0,10,20,30,40],
"labelExpr":"datum.value == 0 ? '0' : (datum.value % 20 == 0 ? (abs(datum.value) + (datum.value > 0 ? 'N' : 'S')) : '')",
"labelFontSize":25,"labelPadding":8,"labelOverlap":false,"labelBound":false,"labelFlush":false,
"tickSize":{"condition":{"test":"datum.value % 20 == 0","value":10},"value":5},"tickWidth":1,"domainWidth":1}},
"color":{"field":"T","type":"quantitative","scale":{"type":"threshold","domain":[4,6,8,10,12,14,16,18],"range":["#FFFFFF","#1432F0","#2A98EE","#22C032","#9CC41E","#FAF05A","#F8C832","#F89264","#F00A0A"]},"legend":null}
}},
{"data":{"values":[{"d":0,"lat":-50},{"d":360,"lat":50}]},
"mark":{"type":"point","opacity":0,"size":1},
"encoding":{
"x":{"field":"d","type":"quantitative","scale":{"domain":[0,360],"nice":false,"zero":false},
"axis":{"orient":"top","title":null,"labels":false,"values":[0,10,20,30,40,50,60,70,80,90,100,110,120,130,140,150,160,170,180,190,200,210,220,230,240,250,260,270,280,290,300,310,320,330,340,350,360],
"tickSize":{"condition":{"test":"datum.value % 30 == 0","value":9},"value":5},"tickWidth":1,"domainWidth":1}},
"y":{"field":"lat","type":"quantitative","scale":{"domain":[-50,50],"nice":false,"zero":false},
"axis":{"orient":"right","title":null,"labels":false,"values":[-40,-30,-20,-10,0,10,20,30,40],
"tickSize":{"condition":{"test":"datum.value % 20 == 0","value":9},"value":6},"tickWidth":1,"domainWidth":1}}
}}
],
"resolve":{"axis":{"x":"independent","y":"independent"}}
},
{
"width":44,"height":305,
"data":{"name":"legend"},
"mark":{"type":"rect","stroke":"#222222","strokeWidth":1},
"encoding":{
"y":{"field":"lo","type":"quantitative","scale":{"domain":[2,20],"nice":false,"zero":false},
"axis":{"orient":"right","title":null,"values":[4,6,8,10,12,14,16,18],"ticks":false,"domain":false,"labelFontSize":25,"labelPadding":10,"labelOverlap":false,"labelBound":false,"labelFlush":false}},
"y2":{"field":"hi"},
"color":{"field":"T","type":"quantitative","scale":{"type":"threshold","domain":[4,6,8,10,12,14,16,18],"range":["#FFFFFF","#1432F0","#2A98EE","#22C032","#9CC41E","#FAF05A","#F8C832","#F89264","#F00A0A"]},"legend":null}
}
}
]
}
